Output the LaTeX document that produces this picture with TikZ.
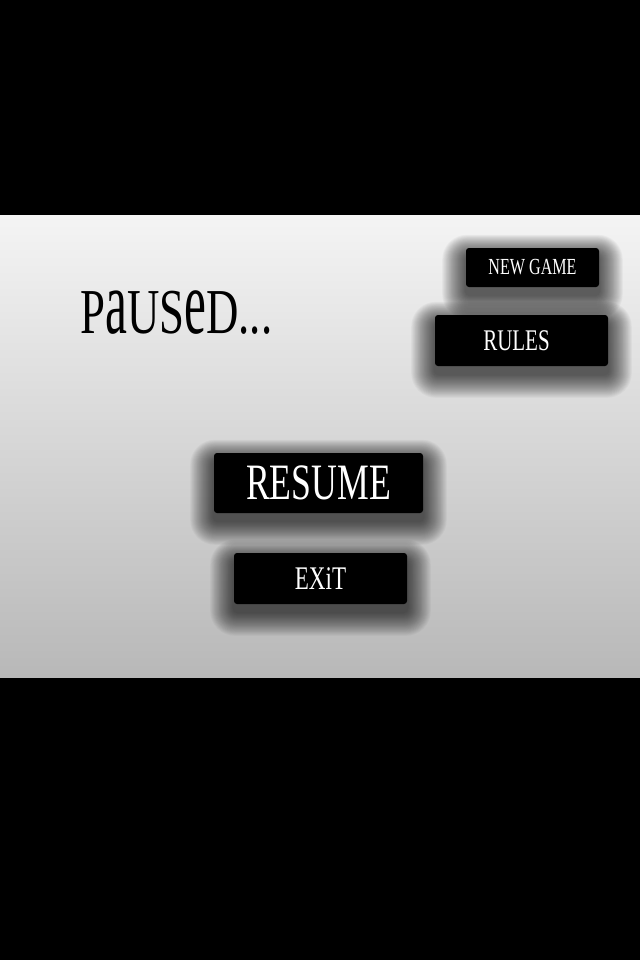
\documentclass[tikz,border=0pt]{standalone}
\usepackage{graphicx}
\usepackage{fontspec}
\setmainfont{Liberation Serif}
\newfontfamily\menufont[FakeStretch=0.7]{Liberation Serif}
\usetikzlibrary{backgrounds}

\definecolor{panellight}{HTML}{F4F4F4}
\definecolor{paneldark}{HTML}{B8B8B8}
\newcommand{\tallcase}[1]{\scalebox{1.1}[1.42]{#1}}

\tikzset{
	menubutton/.style={fill=black, text=white, rounded corners=1.5pt, inner sep=0pt},
}

\begin{document}
\begin{tikzpicture}[x=0.5pt, y=0.5pt]
			\useasboundingbox (0,0) rectangle (640,-960);
			\node[anchor=base west, inner sep=0pt, font=\menufont\fontsize{32}{32}\selectfont] (paused) at (80,-333) {P\tallcase{a}US\tallcase{e}D...};
			
			\node[menubutton, minimum width=66.5pt, minimum height=19.5pt, font=\menufont\fontsize{11.5}{12}\selectfont] (newgame) at (532.5,-267.5) {NEW GAME};
			\node[menubutton, minimum width=86.5pt, minimum height=25.5pt, font=\menufont\fontsize{15}{15}\selectfont] (rules) at (521.5,-340.5) {\hspace*{-5pt}RULES};
			\node[menubutton, minimum width=104.5pt, minimum height=30pt, font=\menufont\fontsize{25.5}{26}\selectfont] (resume) at (318.5,-483) {RESUME};
			\node[menubutton, minimum width=86.5pt, minimum height=25.5pt, font=\menufont\fontsize{16.5}{17}\selectfont] (exit) at (320.5,-578.5) {EXiT};
			
			\begin{pgfonlayer}{background}
			\fill[black] (0,0) rectangle (640,-960);
			\shade[shading angle=-20, top color=panellight, bottom color=paneldark] (0,-215) rectangle (640,-677);
			% soft shadows under the buttons
			\foreach \b in {newgame, rules, resume, exit}
				\foreach \i in {1, ..., 26}
					\fill[black, opacity=0.032, rounded corners={2pt+\i*0.4pt}] ([shift={({-\i*0.45pt},{-\i*0.45pt-4pt})}]\b.south west) rectangle ([shift={({\i*0.45pt},{\i*0.4pt-4pt})}]\b.north east);
			\end{pgfonlayer}
\end{tikzpicture}
\end{document}
